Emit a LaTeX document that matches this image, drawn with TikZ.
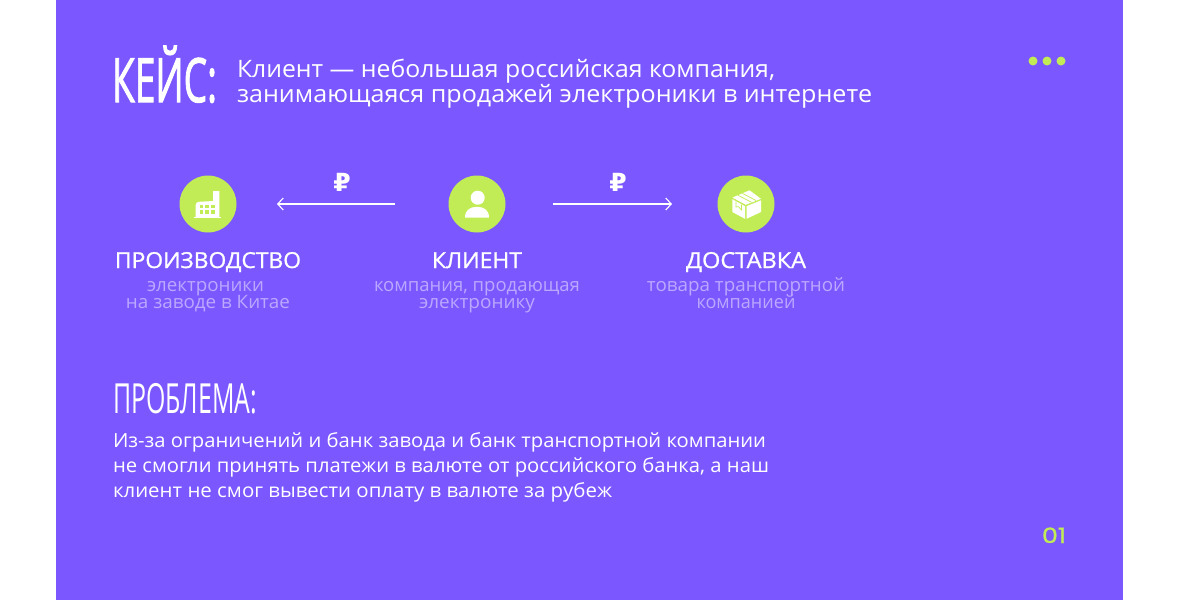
\documentclass[tikz,border=0pt]{standalone}
\usepackage{fontspec}
\usepackage{graphicx}
\setmainfont{Open Sans}
\newfontfamily\rub{DejaVu Sans}
\newfontfamily\medfont[FakeBold=1.0]{Open Sans}
\newfontfamily\headfont[FakeBold=2]{Open Sans}
\newfontfamily\digits[FakeBold=1]{Poppins}
\usetikzlibrary{arrows.meta}
\definecolor{bgp}{HTML}{7B57FF}
\definecolor{lime}{HTML}{C1EC55}
\definecolor{soft}{HTML}{BBA8FF}
\newcommand\fw[2]{\resizebox{#1pt}{\height}{#2}}
\tikzset{
  txt/.style={inner sep=0pt,outer sep=0pt,anchor=base west,text=white},
  ctr/.style={inner sep=0pt,outer sep=0pt,anchor=base,text=white},
  lead/.style={txt,font=\fontsize{24}{24}\selectfont},
  body/.style={txt,font=\fontsize{19.5}{20}\selectfont},
  nodetitle/.style={ctr,font=\medfont\fontsize{22}{22}\selectfont},
  nodesub/.style={ctr,text=soft,font=\fontsize{18.5}{19}\selectfont},
  head/.style={txt,font=\headfont\fontsize{61}{61}\selectfont},
  subhead/.style={txt,font=\fontsize{41.5}{42}\selectfont},
  disc/.style={circle,fill=lime,minimum size=57pt,inner sep=0pt,outer sep=0pt},
  dot/.style={circle,fill=lime,minimum size=9pt,inner sep=0pt,outer sep=0pt},
  flow/.style={draw=white,line width=1.1pt,-{Straight Barb[length=5.5pt,width=12pt,line width=1.1pt]}},
  ruble/.style={inner sep=0pt,outer sep=0pt,text=white,font=\rub\bfseries\fontsize{25}{25}\selectfont},
}
\begin{document}
\begin{tikzpicture}[x=1pt,y=-1pt]
\useasboundingbox (0,0) rectangle (1179,600);
\fill[white] (0,0) rectangle (1179,600);
\fill[bgp] (56,0) rectangle (1123,600);

\node[head] (case) at (112,102) {\fw{105}{КЕЙС:}};
\node[lead] (l1) at (237,77) {\fw{538}{Клиент — небольшая российская компания,}};
\node[lead] (l2) at (237,102) {\fw{635}{занимающаяся продажей электроники в интернете}};

\node[dot] (d1) at (1033,61) {};
\node[dot] (d2) at (1047,61) {};
\node[dot] (d3) at (1061,61) {};

\node[disc] (factory) at (208,204) {};
\node[disc] (client) at (477,204) {};
\node[disc] (delivery) at (746,204) {};

\draw[flow,shorten <=53.5pt,shorten >=40.5pt] (client) -- (factory);
\draw[flow,shorten <=47.5pt,shorten >=45.5pt] (client) -- (delivery);
\node[ruble] (r1) at (342,182.5) {₽};
\node[ruble] (r2) at (618,182.5) {₽};

% factory icon
\fill[white] (195.7,216.8) -- (195.7,205) .. controls (195.7,203) and (197,202) .. (199,201.8) -- (213.2,201) -- (213.2,191) -- (219.3,191) -- (219.3,216.8) -- cycle;
\fill[white] (194,216.7) rectangle (221,218);
\foreach \x in {199.6,205.4,211.2}\foreach \y in {204.8,210.3}
  \fill[lime] (\x,\y) rectangle ++(3.4,3.4);

% person icon
\fill[white] (477.7,197.7) circle (7);
\fill[white] (465,217.6) .. controls (465,210) and (470,206.8) .. (477,206.8) .. controls (484,206.8) and (489,210) .. (489,217.6) -- cycle;

% box icon
\fill[white] (732.5,197.6) -- (749.5,190.3) -- (761,198.8) -- (745.8,204.8) -- cycle;
\fill[white] (732.3,199.2) -- (745,206.2) -- (745,218.8) -- (732.3,212) -- cycle;
\fill[white] (746.6,206.2) -- (761,200.3) -- (761,212) -- (746.6,218.8) -- cycle;
\draw[lime,line width=0.7pt] (738,195.3) -- (751.5,202.3);
\draw[lime,line width=0.7pt] (742.5,193.4) -- (756,200.5);
\draw[lime,line width=0.7pt] (736,201.5) -- (736,207) -- (738.5,206.6) -- (741.5,210) -- (741.5,204.5);

\node[nodetitle] (t1) at (208,268) {\fw{186}{ПРОИЗВОДСТВО}};
\node[nodesub] (s11) at (205.5,291) {\fw{117}{электроники}};
\node[nodesub] (s12) at (208,308) {\fw{164}{на заводе в Китае}};

\node[nodetitle] (t2) at (477,268) {\fw{90}{КЛИЕНТ}};
\node[nodesub] (s21) at (477,291) {\fw{206}{компания, продающая}};
\node[nodesub] (s22) at (477,308) {\fw{116}{электронику}};

\node[nodetitle] (t3) at (746,268) {\fw{120}{ДОСТАВКА}};
\node[nodesub] (s31) at (746,291) {\fw{198}{товара транспортной}};
\node[nodesub] (s32) at (746,308) {\fw{99}{компанией}};

\node[subhead] (prob) at (113,413.5) {\fw{144}{ПРОБЛЕМА:}};

\node[body] (b1) at (113,447) {\fw{653}{Из-за ограничений и банк завода и банк транспортной компании}};
\node[body] (b2) at (113,472) {\fw{656}{не смогли принять платежи в валюте от российского банка, а наш}};
\node[body] (b3) at (113,497) {\fw{499}{клиент не смог вывести оплату в валюте за рубеж}};

\node[txt,text=lime,font=\digits\fontsize{21}{21}\selectfont] (num) at (1042,543) {\fw{24}{01}};
\end{tikzpicture}
\end{document}
